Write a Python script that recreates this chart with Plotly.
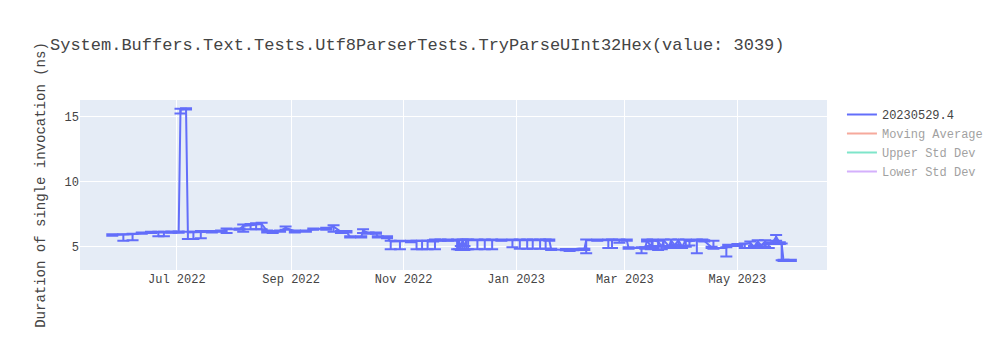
import plotly.graph_objects as go

title_text = "System.Buffers.Text.Tests.Utf8ParserTests.TryParseUInt32Hex(value: 3039)"
series_name = "20230529.4"
y_title = "Duration of single invocation (ns)"

dates = [
    "2022-05-27", "2022-06-02", "2022-06-07", "2022-06-12", "2022-06-17", "2022-06-21",
    "2022-06-24", "2022-06-28", "2022-07-02", "2022-07-03", "2022-07-06", "2022-07-07",
    "2022-07-10", "2022-07-14", "2022-07-20", "2022-07-25", "2022-07-28", "2022-08-04",
    "2022-08-06", "2022-08-10", "2022-08-13", "2022-08-16", "2022-08-19", "2022-08-22",
    "2022-08-26", "2022-08-29", "2022-09-03", "2022-09-09", "2022-09-13", "2022-09-20",
    "2022-09-24", "2022-09-28", "2022-10-01", "2022-10-03", "2022-10-09", "2022-10-10",
    "2022-10-13", "2022-10-17", "2022-10-18", "2022-10-23", "2022-10-25", "2022-10-30",
    "2022-11-05", "2022-11-08", "2022-11-11", "2022-11-14", "2022-11-17", "2022-11-18",
    "2022-11-21", "2022-11-25", "2022-11-30", "2022-12-01", "2022-12-02", "2022-12-03",
    "2022-12-04", "2022-12-05", "2022-12-06", "2022-12-11", "2022-12-15", "2022-12-19",
    "2022-12-24", "2022-12-30", "2023-01-03", "2023-01-07", "2023-01-10", "2023-01-14",
    "2023-01-17", "2023-01-19", "2023-01-20", "2023-01-28", "2023-01-30", "2023-02-01",
    "2023-02-06", "2023-02-07", "2023-02-08", "2023-02-14", "2023-02-20", "2023-02-22",
    "2023-02-26", "2023-03-02", "2023-03-03", "2023-03-10", "2023-03-12", "2023-03-13",
    "2023-03-15", "2023-03-16", "2023-03-19", "2023-03-21", "2023-03-22", "2023-03-25",
    "2023-03-26", "2023-03-28", "2023-03-30", "2023-04-01", "2023-04-03", "2023-04-05",
    "2023-04-09", "2023-04-12", "2023-04-13", "2023-04-17", "2023-04-18", "2023-04-25",
    "2023-04-26", "2023-05-01", "2023-05-05", "2023-05-08", "2023-05-10", "2023-05-12",
    "2023-05-14", "2023-05-16", "2023-05-18", "2023-05-20", "2023-05-22", "2023-05-24",
    "2023-05-25", "2023-05-26", "2023-05-30",
]

values = [
    5.9, 5.9, 5.95, 6.05, 6.1, 6.1,
    6.1, 6.12, 6.12, 15.55, 15.6, 6.1,
    6.1, 6.15, 6.15, 6.2, 6.35, 6.35,
    6.6, 6.65, 6.7, 6.75, 6.2, 6.15,
    6.2, 6.45, 6.2, 6.2, 6.35, 6.4,
    6.55, 6.15, 6.15, 5.75, 5.75, 6.25,
    6.05, 6.05, 5.75, 5.75, 5.4, 5.4,
    5.4, 5.4, 5.4, 5.4, 5.45, 5.5,
    5.5, 5.5, 5.5, 5.45, 5.0, 5.5,
    5.0, 5.5, 5.5, 5.5, 5.5, 5.5,
    5.5, 5.5, 5.5, 5.5, 5.5, 5.5,
    5.5, 5.5, 4.8, 4.78, 4.72, 4.78,
    4.8, 4.8, 5.5, 5.5, 5.5, 5.5,
    5.5, 5.5, 4.9, 4.9, 4.9, 5.5,
    5.0, 5.5, 5.4, 5.0, 5.5, 5.0,
    5.5, 5.1, 5.5, 5.0, 5.5, 5.4,
    5.5, 5.5, 5.45, 4.95, 4.9, 4.9,
    5.1, 5.15, 5.2, 5.3, 5.0, 5.4,
    5.1, 5.4, 5.2, 5.3, 5.75, 5.3,
    5.2, 3.95, 3.95,
]

err_minus = [
    0.05, 0.45, 0.45, 0.05, 0.05, 0.3,
    0.3, 0.05, 0.05, 0.3, 0.05, 0.5,
    0.5, 0.5, 0.05, 0.05, 0.3, 0.05,
    0.45, 0.3, 0.35, 0.4, 0.1, 0.1,
    0.05, 0.15, 0.1, 0.05, 0.05, 0.1,
    0.4, 0.1, 0.05, 0.05, 0.05, 0.2,
    0.05, 0.05, 0.05, 0.1, 0.6, 0.6,
    0.05, 0.6, 0.6, 0.6, 0.05, 0.7,
    0.05, 0.05, 0.7, 0.65, 0.25, 0.7,
    0.25, 0.7, 0.7, 0.7, 0.7, 0.7,
    0.05, 0.55, 0.65, 0.65, 0.65, 0.65,
    0.65, 0.05, 0.05, 0.05, 0.05, 0.05,
    0.05, 0.05, 1.0, 0.05, 0.6, 0.6,
    0.2, 0.05, 0.05, 0.4, 0.05, 0.1,
    0.2, 0.6, 0.65, 0.2, 0.5, 0.1,
    0.5, 0.2, 0.5, 0.1, 0.5, 0.3,
    1.0, 0.05, 0.05, 0.05, 0.05, 0.65,
    0.05, 0.1, 0.3, 0.4, 0.1, 0.4,
    0.2, 0.4, 0.3, 0.1, 0.3, 0.1,
    1.25, 0.05, 0.05,
]

err_plus = [
    0.05, 0.05, 0.05, 0.05, 0.05, 0.05,
    0.05, 0.05, 0.05, 0.05, 0.05, 0.05,
    0.05, 0.05, 0.05, 0.05, 0.05, 0.05,
    0.1, 0.1, 0.1, 0.1, 0.05, 0.05,
    0.05, 0.1, 0.05, 0.05, 0.05, 0.05,
    0.1, 0.05, 0.05, 0.05, 0.05, 0.1,
    0.05, 0.05, 0.05, 0.05, 0.05, 0.05,
    0.05, 0.05, 0.05, 0.05, 0.05, 0.05,
    0.05, 0.05, 0.05, 0.05, 0.05, 0.05,
    0.05, 0.05, 0.05, 0.05, 0.05, 0.05,
    0.05, 0.05, 0.05, 0.05, 0.05, 0.05,
    0.05, 0.05, 0.05, 0.05, 0.05, 0.05,
    0.05, 0.05, 0.05, 0.05, 0.05, 0.05,
    0.05, 0.05, 0.05, 0.05, 0.05, 0.05,
    0.05, 0.05, 0.05, 0.05, 0.05, 0.05,
    0.05, 0.05, 0.05, 0.05, 0.05, 0.05,
    0.05, 0.05, 0.05, 0.05, 0.55, 0.05,
    0.05, 0.05, 0.05, 0.1, 0.05, 0.1,
    0.05, 0.1, 0.05, 0.05, 0.15, 0.05,
    0.05, 0.05, 0.05,
]

# Hidden (legend-only) series: their values are not visible in the picture.
extra_names = ["Moving Average", "Upper Std Dev", "Lower Std Dev"]
extra_colors = ["#EF553B", "#00cc96", "#ab63fa"]
extra_values = [None] * len(dates)

x_range = ["2022-05-09 12:00", "2023-06-18 14:00"]
y_range = [3.21, 16.28]

font_family = "Courier New, Liberation Mono, monospace"

fig = go.Figure()
fig.add_trace(go.Scatter(
    x=dates, y=values, mode="lines", name=series_name,
    line=dict(color="#636efa", width=2),
    error_y=dict(type="data", symmetric=False, array=err_plus, arrayminus=err_minus,
                 color="#636efa", thickness=2, width=6),
))
for nm, col in zip(extra_names, extra_colors):
    fig.add_trace(go.Scatter(x=dates, y=extra_values, mode="lines", name=nm,
                             line=dict(color=col, width=2), visible="legendonly",
                             showlegend=True))

fig.update_layout(
    width=1000, height=350,
    template="plotly",
    showlegend=True,
    font=dict(family=font_family, size=12, color="#444"),
    title=dict(text=title_text),
    margin=dict(l=80, t=100, b=80, r=80),
    xaxis=dict(range=x_range, type="date"),
    yaxis=dict(range=y_range, title=dict(text=y_title)),
)

fig.write_html("out.html")
